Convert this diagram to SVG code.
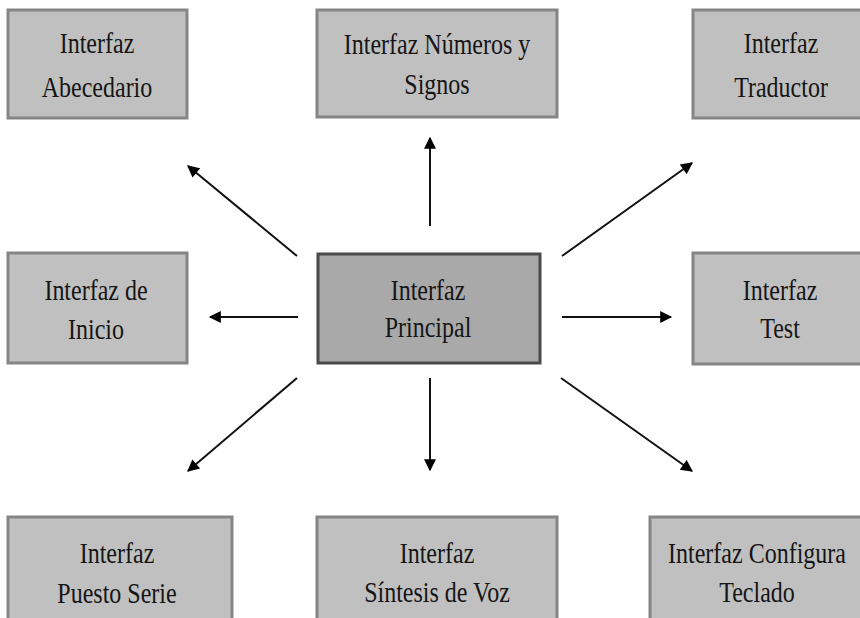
<svg xmlns="http://www.w3.org/2000/svg" width="860" height="618" viewBox="0 0 860 618">
<style>
.box{fill:#c0c0c0;stroke:#858585;stroke-width:3}
.main{fill:#a9a9a9;stroke:#4a4a4a;stroke-width:3}
.t{font-family:'Liberation Serif','Times New Roman',serif;font-size:24px;fill:#151515;text-anchor:middle}
.c{stroke:#111;stroke-width:2;fill:none;marker-end:url(#ah)}
</style>
<defs>
<marker id="ah" viewBox="0 0 10 10" refX="9" refY="5" markerWidth="7" markerHeight="6" orient="auto" markerUnits="strokeWidth">
<path d="M0,0 L10,5 L0,10 z" fill="#000"/>
</marker>
</defs>
<rect width="860" height="618" fill="#fff"/>
<g id="connectors">
<line class="c" x1="297" y1="256" x2="188" y2="166"/>
<line class="c" x1="430" y1="226" x2="430" y2="138"/>
<line class="c" x1="562" y1="256" x2="692" y2="163"/>
<line class="c" x1="298" y1="317" x2="210" y2="317"/>
<line class="c" x1="562" y1="317" x2="671" y2="317"/>
<line class="c" x1="297" y1="378" x2="188" y2="471"/>
<line class="c" x1="430" y1="378" x2="430" y2="470"/>
<line class="c" x1="561" y1="378" x2="692" y2="471"/>
</g>
<g id="n-abecedario">
<rect class="box" x="8" y="10" width="179" height="108"/>
<text class="t" transform="translate(97,53) scale(1,1.25)">Interfaz</text>
<text class="t" transform="translate(97,97) scale(1,1.25)">Abecedario</text>
</g>
<g id="n-numeros">
<rect class="box" x="317" y="10" width="240" height="107"/>
<text class="t" transform="translate(437,54) scale(1,1.25)">Interfaz Números y</text>
<text class="t" transform="translate(437,94) scale(1,1.25)">Signos</text>
</g>
<g id="n-traductor">
<rect class="box" x="693" y="10" width="178" height="108"/>
<text class="t" transform="translate(781,53) scale(1,1.25)">Interfaz</text>
<text class="t" transform="translate(781,97) scale(1,1.25)">Traductor</text>
</g>
<g id="n-inicio">
<rect class="box" x="8" y="253" width="179" height="110"/>
<text class="t" transform="translate(96,300) scale(1,1.25)">Interfaz de</text>
<text class="t" transform="translate(96,339) scale(1,1.25)">Inicio</text>
</g>
<g id="n-principal">
<rect class="main" x="318" y="254" width="222" height="109"/>
<text class="t" transform="translate(428,300) scale(1,1.25)">Interfaz</text>
<text class="t" transform="translate(428,337) scale(1,1.25)">Principal</text>
</g>
<g id="n-test">
<rect class="box" x="693" y="253" width="176" height="111"/>
<text class="t" transform="translate(780,300) scale(1,1.25)">Interfaz</text>
<text class="t" transform="translate(780,338) scale(1,1.25)">Test</text>
</g>
<g id="n-puerto">
<rect class="box" x="8" y="517" width="224" height="110"/>
<text class="t" transform="translate(117,563) scale(1,1.25)">Interfaz</text>
<text class="t" transform="translate(117,603) scale(1,1.25)">Puesto Serie</text>
</g>
<g id="n-sintesis">
<rect class="box" x="317" y="517" width="240" height="110"/>
<text class="t" transform="translate(437,563) scale(1,1.25)">Interfaz</text>
<text class="t" transform="translate(437,602) scale(1,1.25)">Síntesis de Voz</text>
</g>
<g id="n-teclado">
<rect class="box" x="650" y="517" width="216" height="110"/>
<text class="t" transform="translate(757,563) scale(1,1.25)">Interfaz Configura</text>
<text class="t" transform="translate(757,602) scale(1,1.25)">Teclado</text>
</g>
</svg>
